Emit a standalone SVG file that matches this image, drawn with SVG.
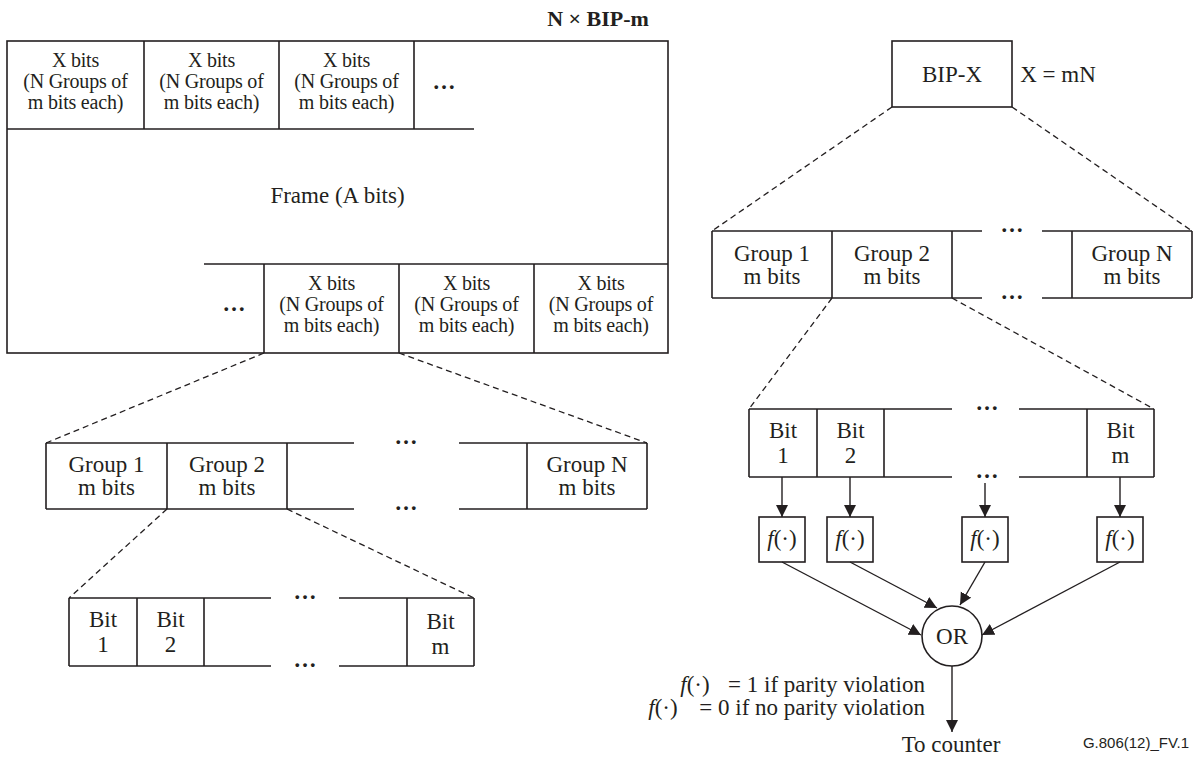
<svg xmlns="http://www.w3.org/2000/svg" width="1202" height="758" viewBox="0 0 1202 758">
<defs>
<marker id="arr" markerUnits="userSpaceOnUse" markerWidth="13" markerHeight="13" refX="12" refY="6" orient="auto">
<path d="M0,0 L12,6 L0,12 z" fill="#231f20"/>
</marker>
<style>
.ln{stroke:#231f20;stroke-width:1.6;fill:none}
.bx{stroke:#231f20;stroke-width:1.6;fill:#fff}
.ds{stroke:#231f20;stroke-width:1.3;fill:none;stroke-dasharray:6 4}
.ar{stroke:#231f20;stroke-width:1.4;fill:none;marker-end:url(#arr)}
text{font-family:"Liberation Serif","Times New Roman",serif;fill:#231f20;text-anchor:middle}
.t23{font-size:23px}
.t21{font-size:20px;letter-spacing:-0.2px}
.dots{font-size:23px;font-weight:bold}
.ttl{font-size:22px;font-weight:bold}
.sans{font-family:"Liberation Sans",Arial,sans-serif;font-size:15px}
.it{font-style:italic}
</style>
</defs>
<rect width="1202" height="758" fill="#fff"/>

<g id="title"><text class="ttl" x="598" y="26">N × BIP-m</text></g>

<g id="frame">
<rect class="ln" x="7" y="41" width="661" height="312"/>
<text class="t23" x="337.5" y="203">Frame (A bits)</text>
</g>

<g id="frame-top-row">
<path class="ln" d="M7,129 H474 M144,41 V129 M279,41 V129 M414,41 V129"/>
<text class="t21" x="75.5" y="67">X bits</text>
<text class="t21" x="75.5" y="88">(N Groups of</text>
<text class="t21" x="75.5" y="109">m bits each)</text>
<text class="t21" x="211.5" y="67">X bits</text>
<text class="t21" x="211.5" y="88">(N Groups of</text>
<text class="t21" x="211.5" y="109">m bits each)</text>
<text class="t21" x="346.5" y="67">X bits</text>
<text class="t21" x="346.5" y="88">(N Groups of</text>
<text class="t21" x="346.5" y="109">m bits each)</text>
<text class="dots" x="444" y="89">…</text>
</g>

<g id="frame-bottom-row">
<path class="ln" d="M204,264 H668 M264,264 V353 M399,264 V353 M534,264 V353"/>
<text class="dots" x="234" y="311">…</text>
<text class="t21" x="331.5" y="290">X bits</text>
<text class="t21" x="331.5" y="311">(N Groups of</text>
<text class="t21" x="331.5" y="332">m bits each)</text>
<text class="t21" x="466.5" y="290">X bits</text>
<text class="t21" x="466.5" y="311">(N Groups of</text>
<text class="t21" x="466.5" y="332">m bits each)</text>
<text class="t21" x="601" y="290">X bits</text>
<text class="t21" x="601" y="311">(N Groups of</text>
<text class="t21" x="601" y="332">m bits each)</text>
</g>

<g id="left-groups">
<path class="ln" d="M46,443 V509 M46,443 H354 M46,509 H354 M459,443 H647 M459,509 H647 M647,443 V509 M167,443 V509 M287,443 V509 M527,443 V509"/>
<text class="t23" x="106.5" y="472">Group 1</text>
<text class="t23" x="106.5" y="495">m bits</text>
<text class="t23" x="227" y="472">Group 2</text>
<text class="t23" x="227" y="495">m bits</text>
<text class="t23" x="587" y="472">Group N</text>
<text class="t23" x="587" y="495">m bits</text>
<text class="dots" x="406" y="444">…</text>
<text class="dots" x="406" y="510">…</text>
</g>

<g id="left-bits">
<path class="ln" d="M69,598 V666 M69,598 H271 M69,666 H271 M339,598 H474 M339,666 H474 M474,598 V666 M137,598 V666 M204,598 V666 M407,598 V666"/>
<text class="t23" x="103" y="627">Bit</text>
<text class="t23" x="103" y="652">1</text>
<text class="t23" x="170.5" y="627">Bit</text>
<text class="t23" x="170.5" y="652">2</text>
<text class="t23" x="440.5" y="629">Bit</text>
<text class="t23" x="440.5" y="654">m</text>
<text class="dots" x="305" y="599">…</text>
<text class="dots" x="305" y="667">…</text>
</g>

<g id="bipx">
<rect class="bx" x="892" y="41" width="120" height="66"/>
<text class="t23" x="952" y="82">BIP-X</text>
<text class="t23" x="1058" y="82">X = mN</text>
</g>

<g id="right-groups">
<path class="ln" d="M712,231 V298 M712,231 H982 M712,298 H982 M1042,231 H1192 M1042,298 H1192 M1192,231 V298 M832,231 V298 M952,231 V298 M1072,231 V298"/>
<text class="t23" x="772" y="261">Group 1</text>
<text class="t23" x="772" y="284">m bits</text>
<text class="t23" x="892" y="261">Group 2</text>
<text class="t23" x="892" y="284">m bits</text>
<text class="t23" x="1132" y="261">Group N</text>
<text class="t23" x="1132" y="284">m bits</text>
<text class="dots" x="1012" y="232">…</text>
<text class="dots" x="1012" y="299">…</text>
</g>

<g id="right-bits">
<path class="ln" d="M749,409 V477 M749,409 H952 M749,477 H952 M1019,409 H1154 M1019,477 H1154 M1154,409 V477 M817,409 V477 M884,409 V477 M1087,409 V477"/>
<text class="t23" x="783" y="438">Bit</text>
<text class="t23" x="783" y="463">1</text>
<text class="t23" x="850.5" y="438">Bit</text>
<text class="t23" x="850.5" y="463">2</text>
<text class="t23" x="1120.5" y="438">Bit</text>
<text class="t23" x="1120.5" y="463">m</text>
<text class="dots" x="987" y="410">…</text>
<text class="dots" x="987" y="478">…</text>
</g>

<g id="f1"><rect class="bx" x="759" y="517" width="46" height="45"/><text class="t23" x="782" y="546"><tspan class="it">f</tspan>(·)</text></g>
<g id="f2"><rect class="bx" x="827" y="517" width="46" height="45"/><text class="t23" x="850" y="546"><tspan class="it">f</tspan>(·)</text></g>
<g id="f3"><rect class="bx" x="962" y="517" width="46" height="45"/><text class="t23" x="985" y="546"><tspan class="it">f</tspan>(·)</text></g>
<g id="f4"><rect class="bx" x="1097" y="517" width="46" height="45"/><text class="t23" x="1120" y="546"><tspan class="it">f</tspan>(·)</text></g>

<g id="or"><circle class="bx" cx="952" cy="636" r="30"/><text class="t23" x="952" y="644">OR</text></g>

<g id="legend">
<text class="t23" x="695" y="692"><tspan class="it">f</tspan>(·)</text>
<text class="t23" x="925" y="692" style="text-anchor:end">= 1 if parity violation</text>
<text class="t23" x="663" y="715"><tspan class="it">f</tspan>(·)</text>
<text class="t23" x="925" y="715" style="text-anchor:end">= 0 if no parity violation</text>
</g>

<g id="to-counter"><text class="t23" x="951" y="752">To counter</text></g>
<g id="fig-label"><text class="sans" x="1136" y="748">G.806(12)_FV.1</text></g>

<g id="connectors">
<path class="ds" d="M264,353 L46,443"/>
<path class="ds" d="M399,353 L647,443"/>
<path class="ds" d="M167,509 L69,598"/>
<path class="ds" d="M287,509 L474,598"/>
<path class="ds" d="M892,107 L712,231"/>
<path class="ds" d="M1012,107 L1192,231"/>
<path class="ds" d="M832,298 L749,409"/>
<path class="ds" d="M952,298 L1154,409"/>
<path class="ar" d="M782,477 V517"/>
<path class="ar" d="M850,477 V517"/>
<path class="ar" d="M985,483 V517"/>
<path class="ar" d="M1120,477 V517"/>
<path class="ar" d="M782,562 L921,635"/>
<path class="ar" d="M850,562 L937,608"/>
<path class="ar" d="M985,562 L960,605"/>
<path class="ar" d="M1120,562 L982,635"/>
<path class="ar" d="M952,666 V732"/>
</g>
</svg>
